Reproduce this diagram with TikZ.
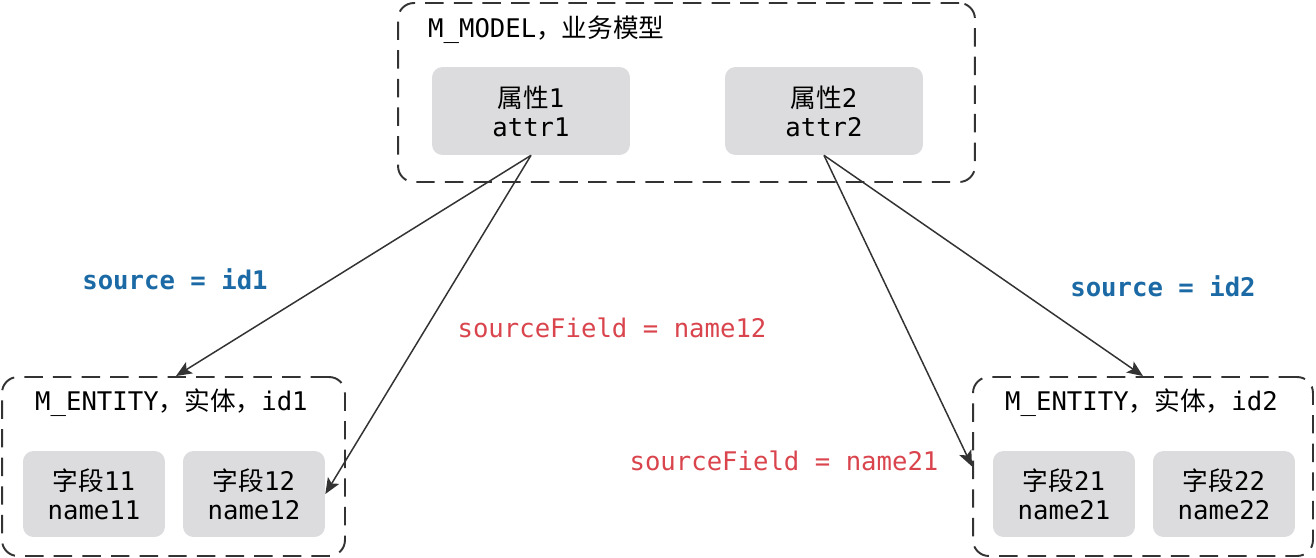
\documentclass[tikz,border=0pt]{standalone}
\usepackage{fontspec}
\setmonofont{DejaVu Sans Mono}
\newfontfamily\cjk{Noto Sans CJK SC}
\usetikzlibrary{arrows.meta}
\definecolor{boxgray}{HTML}{DCDCDE}
\definecolor{linkred}{HTML}{D9444D}
\definecolor{linkblue}{HTML}{1B6AA5}
\definecolor{linegray}{HTML}{333333}
\begin{document}
\begin{tikzpicture}[x = 0.02cm, y = -0.02cm,
    every node/.append style = {font = \ttfamily\fontsize{14.6pt}{16.5pt}\selectfont},
    group/.style = {draw = linegray, line width = 1.1pt, dash pattern = on 10.5pt off 5.8pt,
        rounded corners = 9pt, inner sep = 0pt},
    item/.style = {fill = boxgray, rounded corners = 6pt, align = center, inner sep = 0pt},
    link/.style = {draw = linegray, line width = 0.85pt, -{Stealth[length = 9pt, width = 7.5pt, inset = 2pt]}}]
            \useasboundingbox (0,0) rectangle (1316,558);
            % groups
            \node[group, minimum width = 11.54cm, minimum height = 3.58cm] (model) at (686.5,92.5) {};
            \node[group, minimum width = 6.86cm, minimum height = 3.58cm] (ent1) at (173.5,466.5) {};
            \node[group, minimum width = 6.80cm, minimum height = 3.58cm] (ent2) at (1143,466.5) {};
            \node[anchor = west] (modeltitle) at (422,30) {M\_MODEL{\cjk ，业务模型}};
            \node[anchor = west] (ent1title) at (29,403) {M\_ENTITY{\cjk ，实体，}id1};
            \node[anchor = west] (ent2title) at (999,403) {M\_ENTITY{\cjk ，实体，}id2};
            % items
            \begin{scope}[every node/.append style = {item, minimum width = 3.96cm, minimum height = 1.76cm}]
                \node (attr1) at (531,111) {{\cjk 属性}1\\attr1};
                \node (attr2) at (824,111) {{\cjk 属性}2\\attr2};
            \end{scope}
            \begin{scope}[every node/.append style = {item, minimum width = 2.84cm, minimum height = 1.72cm}]
                \node (f11) at (94,494) {{\cjk 字段}11\\name11};
                \node (f12) at (254,494) {{\cjk 字段}12\\name12};
                \node (f21) at (1064,494) {{\cjk 字段}21\\name21};
                \node (f22) at (1224,494) {{\cjk 字段}22\\name22};
            \end{scope}
            % links
            \draw[link] (attr1.south) -- (ent1.north -| 176,0);
            \draw[link] (attr1.south) -- (f12.east);
            \draw[link] (attr2.south) -- (ent2.north);
            \draw[link] (attr2.south) -- (ent2.west);
            \node[text = linkblue, font = \ttfamily\bfseries\fontsize{14.6pt}{16.5pt}\selectfont] (src1) at (175,279) {source = id1};
            \node[text = linkblue, font = \ttfamily\bfseries\fontsize{14.6pt}{16.5pt}\selectfont] (src2) at (1163,286) {source = id2};
            \node[text = linkred] (fld12) at (612,328) {sourceField = name12};
            \node[text = linkred] (fld21) at (784,461) {sourceField = name21};
        \end{tikzpicture}
\end{document}
